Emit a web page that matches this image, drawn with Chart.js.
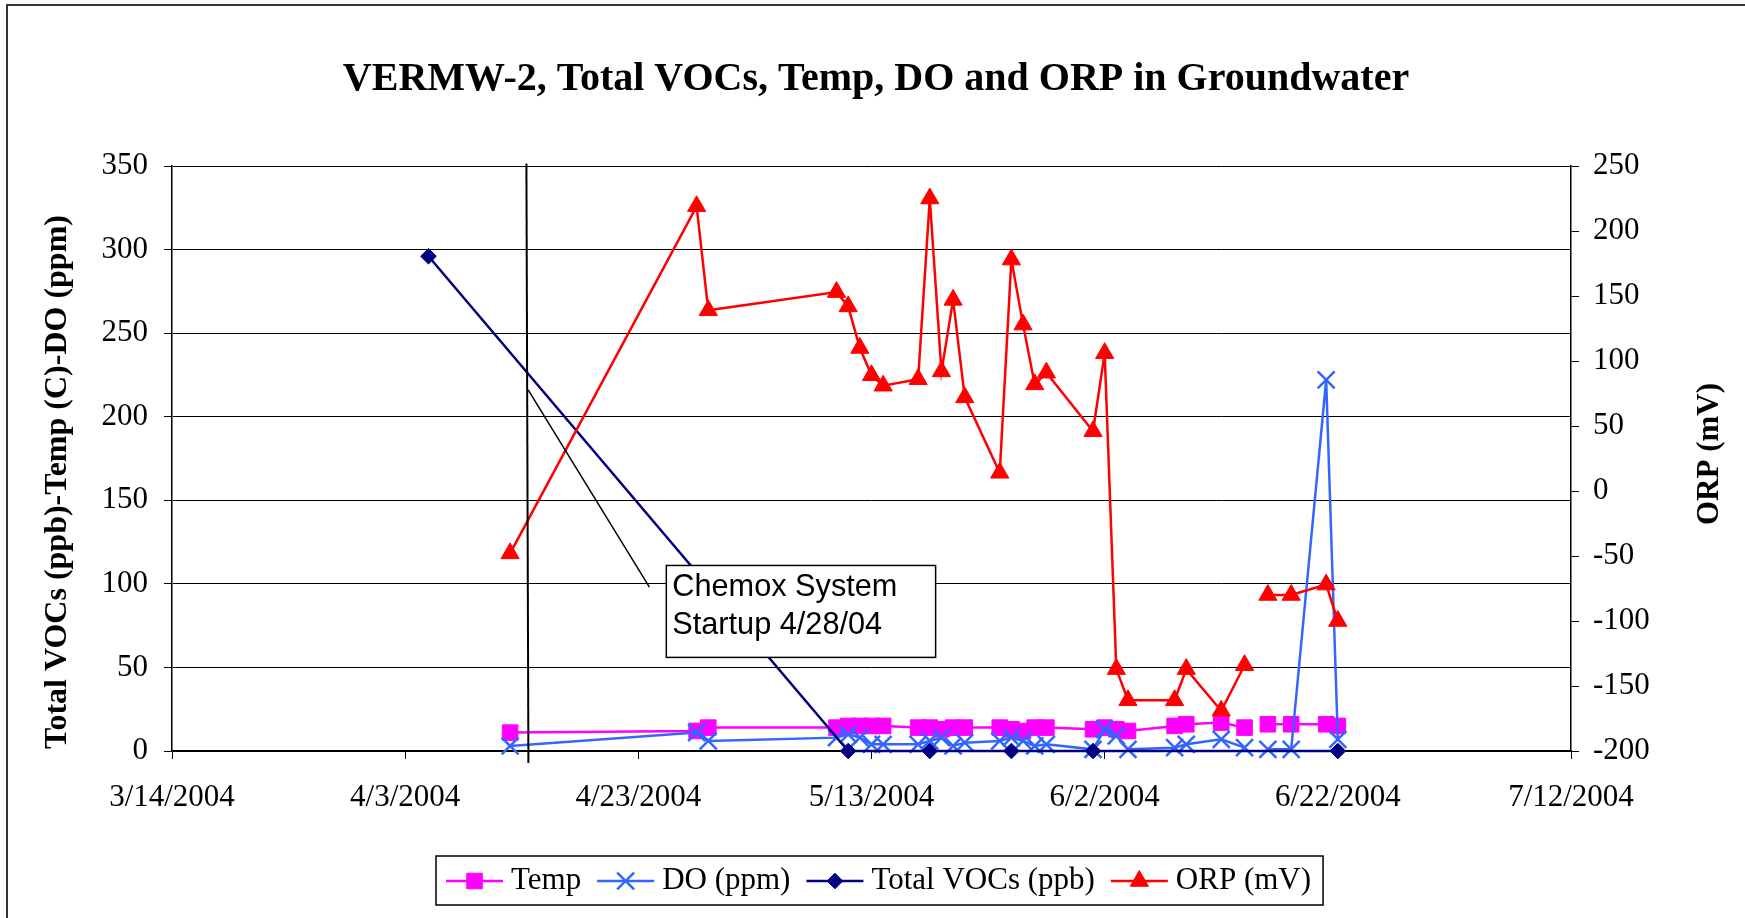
<!DOCTYPE html>
<html>
<head>
<meta charset="utf-8">
<script src="https://cdn.jsdelivr.net/npm/chart.js@4.4.1/dist/chart.umd.min.js"></script>
<style>
  html, body { margin: 0; padding: 0; background: #fff; }
  canvas { display: block; }
</style>
</head>
<body>
<canvas id="wellChart" width="1745" height="918"></canvas>
<script>
// x values are days counted from 3/14/2004 (left end of the axis)
const axisStart = new Date(2004, 2, 14);

// sampling days shared by Temp, DO and ORP (93 = break in the lines)
const sampleDays = [29, 45, 46, 57, 58, 59, 60, 61, 64, 65, 66, 67, 68, 71, 72, 73, 74, 75,
                    79, 80, 81, 82, 86, 87, 90, 92, 93, 94, 96, 99, 100];
const tempValues = [11, 12, 14, 14, 15, 15, 15, 15, 14, 14, 13, 14, 14, 14, 13, 12, 14, 14,
                    13, 14, 13, 12, 15, 16, 17, 14, null, 16, 16, 16, 15];
const doValues   = [3, 11, 6, 8, 10, 8, 4, 4, 4, 6, 8, 3, 5, 6, 8, 6, 3, 4,
                    1, 13, 9, 1, 2, 4, 7, 2, null, 1, 1, 222, 7];
const orpValues  = [-48, 219, 139, 153, 142, 110, 89, 81, 86, 225, 92, 147, 72, 14, 178, 128, 82, 91,
                    46, 106, -137, -161, -161, -137, -169, -134, null, -80, -80, -72, -100];

const vocDays   = [22, 58, 65, 72, 79, 100];
const vocValues = [296, 0, 0, 0, 0, 0];

const chartTitle = 'VERMW-2, Total VOCs, Temp, DO and ORP in Groundwater';
const leftAxisTitle = 'Total VOCs (ppb)-Temp (C)-DO (ppm)';
const rightAxisTitle = 'ORP (mV)';
const calloutLines = ['Chemox System', 'Startup 4/28/04'];

// annotation placement, in axis units (day, left-axis value)
const startupLineDay = 30.4;
const calloutBox = { fromDay: 42.4, toDay: 65.5, top: 111, bottom: 56 };
const leaderLine = { fromDay: 30.55, fromVal: 216, toDay: 40.95, toVal: 98 };

const toPoints = (days, vals) => days.map((d, i) => ({ x: d, y: vals[i] }));

const fmtDate = v => {
  const d = new Date(axisStart.getFullYear(), axisStart.getMonth(), axisStart.getDate() + v);
  return (d.getMonth() + 1) + '/' + d.getDate() + '/' + d.getFullYear();
};

const serif = 'Liberation Serif, Times New Roman, serif';
const tickFont = { family: serif, size: 31 };

const drawMarker = (ctx, ds, x, y) => {
  ctx.save();
  ctx.fillStyle = ds.pointBackgroundColor;
  ctx.strokeStyle = ds.pointBorderColor;
  ctx.lineWidth = ds.pointBorderWidth;
  Chart.helpers.drawPoint(ctx, {
    pointStyle: ds.pointStyle, radius: ds.pointRadius, rotation: 0, borderWidth: ds.pointBorderWidth
  }, x, y);
  ctx.restore();
};

const decor = {
  id: 'decor',
  beforeDraw(chart) {
    const ctx = chart.ctx;
    ctx.save();
    ctx.fillStyle = '#fff';
    ctx.fillRect(0, 0, chart.width, chart.height);
    ctx.strokeStyle = '#333';
    ctx.lineWidth = 2;
    ctx.strokeRect(7, 5, chart.width + 20, chart.height + 20);
    ctx.restore();
  },
  afterDatasetsDraw(chart) {
    const ctx = chart.ctx;
    const xs = chart.scales.x, ys = chart.scales.y;
    ctx.save();
    // vertical startup line
    const lx = xs.getPixelForValue(startupLineDay);
    ctx.strokeStyle = '#000';
    ctx.lineWidth = 2;
    ctx.beginPath();
    ctx.moveTo(lx, ys.getPixelForValue(351.5));
    ctx.lineTo(lx + 2, chart.chartArea.bottom + 12);
    ctx.stroke();
    // leader line
    ctx.lineWidth = 1.5;
    ctx.beginPath();
    ctx.moveTo(xs.getPixelForValue(leaderLine.fromDay), ys.getPixelForValue(leaderLine.fromVal));
    ctx.lineTo(xs.getPixelForValue(leaderLine.toDay), ys.getPixelForValue(leaderLine.toVal));
    ctx.stroke();
    // callout box
    const bx = xs.getPixelForValue(calloutBox.fromDay);
    const bw = xs.getPixelForValue(calloutBox.toDay) - bx;
    const by = ys.getPixelForValue(calloutBox.top);
    const bh = ys.getPixelForValue(calloutBox.bottom) - by;
    ctx.fillStyle = '#fff';
    ctx.fillRect(bx, by, bw, bh);
    ctx.lineWidth = 1.5;
    ctx.strokeRect(bx, by, bw, bh);
    ctx.fillStyle = '#000';
    ctx.font = '30.7px Liberation Sans, Arial, sans-serif';
    ctx.textAlign = 'left';
    ctx.textBaseline = 'alphabetic';
    ctx.fillText(calloutLines[0], bx + 6, by + 31);
    ctx.fillText(calloutLines[1], bx + 6, by + 69);
    ctx.restore();
  },
  afterDraw(chart) {
    const ctx = chart.ctx;
    ctx.save();
    ctx.fillStyle = '#000';
    // title
    ctx.font = 'bold 40px ' + serif;
    ctx.textAlign = 'center';
    ctx.textBaseline = 'alphabetic';
    ctx.fillText(chartTitle, 876, 90);
    // axis titles
    ctx.textBaseline = 'middle';
    ctx.font = 'bold 32px ' + serif;
    ctx.save();
    ctx.translate(58, 482);
    ctx.rotate(-Math.PI / 2);
    ctx.fillText(leftAxisTitle, 0, 0);
    ctx.restore();
    ctx.font = 'bold 31px ' + serif;
    ctx.save();
    ctx.translate(1710, 454);
    ctx.rotate(-Math.PI / 2);
    ctx.fillText(rightAxisTitle, 0, 0);
    ctx.restore();

    // legend
    ctx.font = '31px ' + serif;
    ctx.textAlign = 'left';
    const ly = 881;
    let x = 446;
    const startX = x;
    chart.data.datasets.forEach(ds => {
      ctx.strokeStyle = ds.borderColor;
      ctx.lineWidth = ds.borderWidth;
      ctx.beginPath();
      ctx.moveTo(x, ly);
      ctx.lineTo(x + 57, ly);
      ctx.stroke();
      drawMarker(ctx, ds, x + 28.5, ly);
      ctx.fillStyle = '#000';
      ctx.fillText(ds.label, x + 65, ly);
      x += 65 + ctx.measureText(ds.label).width + 16;
    });
    ctx.strokeStyle = '#000';
    ctx.lineWidth = 1.5;
    ctx.strokeRect(startX - 10, 856, x - 16 + 12 - (startX - 10), 49);
    ctx.restore();
  }
};

new Chart(document.getElementById('wellChart'), {
  type: 'line',
  data: {
    datasets: [{
      label: 'Temp',
      data: toPoints(sampleDays, tempValues),
      yAxisID: 'y',
      borderColor: '#FF00FF',
      borderWidth: 2.5,
      pointStyle: 'rect',
      pointRadius: 11,
      pointBackgroundColor: '#FF00FF',
      pointBorderColor: '#FF00FF',
      pointBorderWidth: 1,
      order: 4
    }, {
      label: 'DO (ppm)',
      data: toPoints(sampleDays, doValues),
      yAxisID: 'y',
      borderColor: '#3366FF',
      borderWidth: 2.5,
      pointStyle: 'crossRot',
      pointRadius: 12,
      pointBackgroundColor: '#3366FF',
      pointBorderColor: '#3366FF',
      pointBorderWidth: 2.5,
      order: 3
    }, {
      label: 'Total VOCs (ppb)',
      data: toPoints(vocDays, vocValues),
      yAxisID: 'y',
      borderColor: '#000080',
      borderWidth: 2.5,
      pointStyle: 'rectRot',
      pointRadius: 7.8,
      pointBackgroundColor: '#000080',
      pointBorderColor: '#000080',
      pointBorderWidth: 1,
      order: 2
    }, {
      label: 'ORP (mV)',
      data: toPoints(sampleDays, orpValues),
      yAxisID: 'y1',
      borderColor: '#FF0000',
      borderWidth: 2.5,
      pointStyle: 'triangle',
      pointRadius: 10.5,
      pointBackgroundColor: '#FF0000',
      pointBorderColor: '#FF0000',
      pointBorderWidth: 1,
      order: 1
    }]
  },
  options: {
    responsive: false,
    animation: false,
    events: [],
    clip: false,
    spanGaps: false,
    elements: { line: { tension: 0 } },
    layout: { padding: { top: 166, left: 0, right: 0, bottom: 0 } },
    plugins: {
      legend: { display: false },
      title: { display: false },
      tooltip: { enabled: false }
    },
    scales: {
      x: {
        type: 'linear',
        min: 0,
        max: 120,
        afterFit: s => { s.height = 167; },
        grid: { drawOnChartArea: false, drawTicks: true, tickLength: 8, color: '#000', lineWidth: 1 },
        border: { color: '#000', width: 1.5 },
        ticks: {
          stepSize: 20, padding: 20, color: '#000', font: tickFont,
          maxRotation: 0, autoSkip: false, callback: v => fmtDate(v)
        }
      },
      y: {
        position: 'left',
        min: 0,
        max: 350,
        afterFit: s => { s.width = 172; },
        grid: { color: '#000', lineWidth: 1, tickLength: 8 },
        border: { color: '#000', width: 1.5 },
        ticks: { stepSize: 50, padding: 16, color: '#000', font: tickFont }
      },
      y1: {
        position: 'right',
        min: -200,
        max: 250,
        afterFit: s => { s.width = 174; },
        grid: { drawOnChartArea: false, tickLength: 8, color: '#000', lineWidth: 1 },
        border: { color: '#000', width: 1.5 },
        ticks: { stepSize: 50, padding: 14, color: '#000', font: tickFont }
      }
    }
  },
  plugins: [decor]
});
</script>
</body>
</html>
